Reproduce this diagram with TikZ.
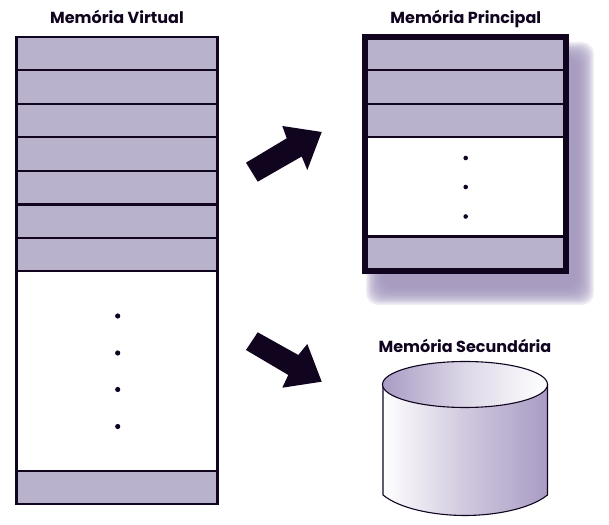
\documentclass[tikz,border=0pt]{standalone}
\usepackage{fontspec}
\setmainfont{Poppins}
\usepackage{xcolor}
\definecolor{inkblue}{HTML}{10041F}
\definecolor{cellpurple}{HTML}{B8B2CD}
\definecolor{shadowpurple}{HTML}{9F93BA}
\definecolor{diskpurple}{HTML}{A99CC4}
\tikzset{
    memtitle/.style={anchor=base, font=\fontsize{16}{18}\selectfont\bfseries, text=inkblue, inner sep=0pt},
    rowline/.style={inkblue, line width=2.1pt},
    bigarrow/.style={fill=inkblue, draw=none},
}

\begin{document}
\begin{tikzpicture}[x=1pt, y=1pt]
        \useasboundingbox (0,0) rectangle (609,524);

        % Memoria Virtual
        \node[memtitle] (virtualtitle) at (117,500) {Memória Virtual};
        \fill[cellpurple] (16.5,253) rectangle (217.5,487);
        \fill[cellpurple] (16.5,20) rectangle (217.5,53);
        \fill[white] (16.5,53) rectangle (217.5,253);
        \foreach \y in {454, 420, 387, 353, 319.5, 286, 253, 53} {
            \draw[rowline] (16.5,\y) -- (217.5,\y);
        }
        \draw[rowline] (16.5,20) rectangle (217.5,487);
        \foreach \y in {208, 171, 134.5, 97.5} {
            \fill[inkblue] (117.7,\y) circle (2.6pt);
        }

        % Memoria Principal
        \node[memtitle] (principaltitle) at (465.8,500) {Memória Principal};
        \foreach \i in {0,...,13} {
            \fill[shadowpurple, opacity=0.16, rounded corners=12pt]
                (366+1.3*\i,219+1.3*\i) rectangle (594-1.3*\i,482-1.3*\i);
        }
        \fill[cellpurple] (365,253) rectangle (565.5,487);
        \fill[white] (365,287.5) rectangle (565.5,387);
        \foreach \y in {454, 420, 387, 287.5} {
            \draw[rowline] (365,\y) -- (565.5,\y);
        }
        \draw[inkblue, line width=6pt] (365,253) rectangle (565.5,487);
        \foreach \y in {366, 337, 307.5} {
            \fill[inkblue] (465.7,\y) circle (2.3pt);
        }

        % Memoria Secundaria
        \node[memtitle] (secundariatitle) at (465,171) {Memória Secundária};
        \draw[inkblue, line width=1.1pt, left color=white, right color=diskpurple, middle color=white!45!diskpurple]
            (383,139.5) -- (383,29) .. controls (400,15) and (435,8.5) .. (465,8.5)
            .. controls (495,8.5) and (530,15) .. (547.5,29) -- (547.5,139.5) -- cycle;
        \draw[inkblue, line width=1.1pt, left color=diskpurple, right color=white, middle color=white!60!diskpurple]
            (465,139.5) ellipse [x radius=82.5, y radius=23];

        % arrows
        \fill[bigarrow] (246,361.3) -- (257.7,342.3) -- (301.7,367.5) -- (307.3,354)
            -- (321.7,392) -- (282.3,398) -- (286.7,385.7) -- cycle;
        \fill[bigarrow] (257.7,191.7) -- (246,174) -- (288.3,149) -- (282.3,136.3)
            -- (321.7,142.3) -- (307.3,180) -- (298.3,169) -- cycle;
    \end{tikzpicture}
\end{document}
